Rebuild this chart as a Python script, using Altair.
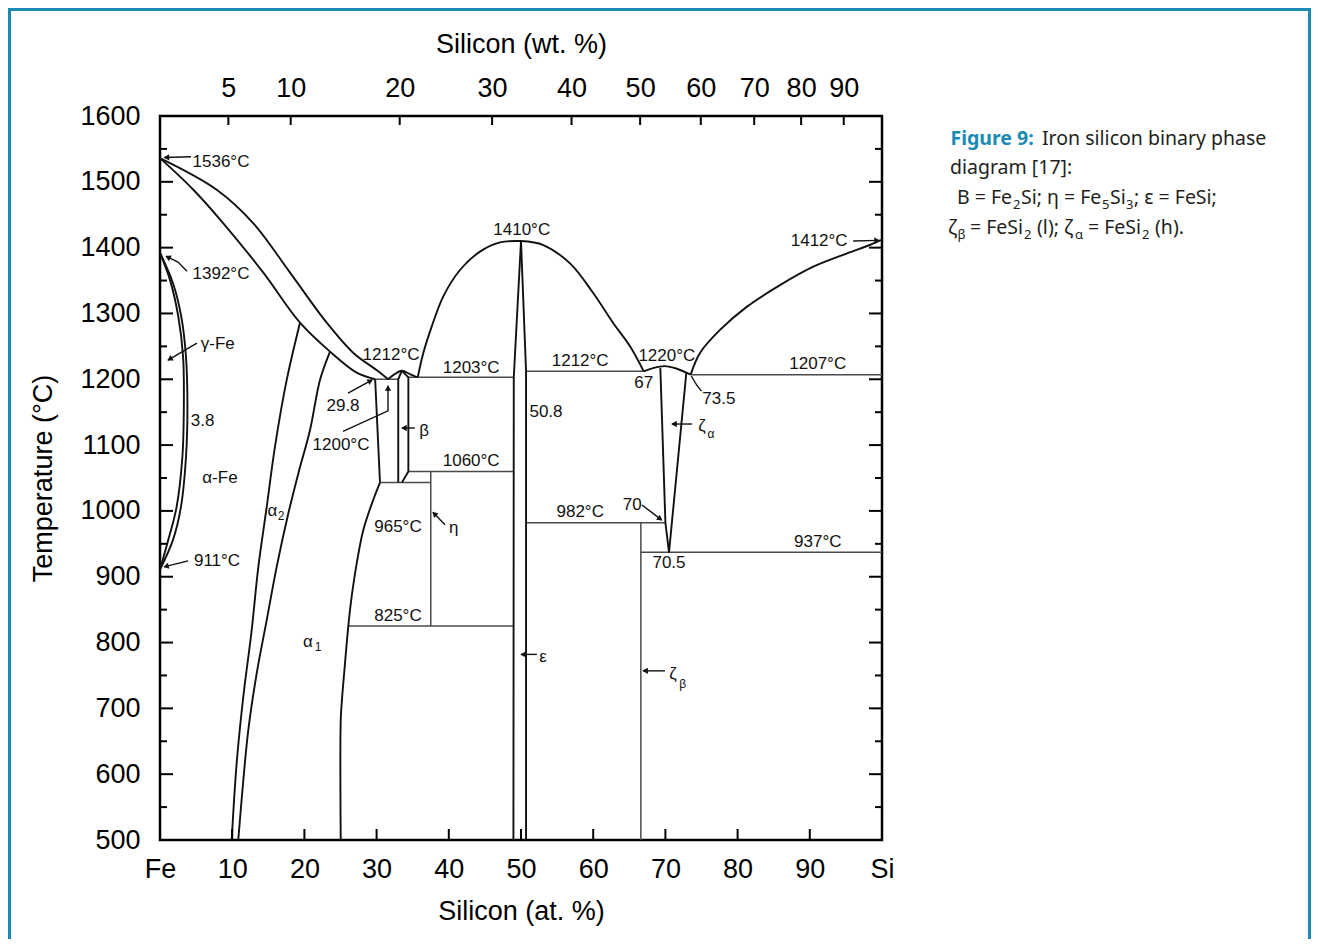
import math
import altair as alt
import pandas as pd

W, H = 722, 724
AT_DOM = [0, 100]
T_DOM = [500, 1600]
FONT = "Liberation Sans"
CAP_FONT = "Noto Sans"
TEAL = "#1b8bb4"
INK = "#111111"
GREY = "#4a4a4a"
CAP_INK = "#231f20"

# ---------------- axes ----------------
at_tick_values = [0, 10, 20, 30, 40, 50, 60, 70, 80, 90, 100]
at_tick_labels = ["Fe", "10", "20", "30", "40", "50", "60", "70", "80", "90", "Si"]
wt_tick_at = [9.47, 18.1, 33.2, 46.0, 57.0, 66.5, 74.9, 82.3, 88.8, 94.7]
wt_tick_labels = ["5", "10", "20", "30", "40", "50", "60", "70", "80", "90"]
temp_major = [500, 600, 700, 800, 900, 1000, 1100, 1200, 1300, 1400, 1500, 1600]
temp_minor = [550, 650, 750, 850, 950, 1050, 1150, 1250, 1350, 1450, 1550]

# ---------------- curved phase boundaries (at.% Si, degC) ----------------
liq_fe_at = [0, 7.85, 12.93, 18.01, 23.09, 26.78, 30.0, 31.6]
liq_fe_T = [1536, 1488, 1437, 1362, 1286, 1240, 1214, 1200]
sol_fe_at = [0, 4.62, 8.77, 14.31, 19.39, 23.55, 27.24, 29.8]
sol_fe_T = [1536, 1488, 1437, 1362, 1286, 1242, 1210, 1200]
gam_out_at = [0, 1.8, 2.95, 3.6, 3.8, 3.6, 2.9, 1.8, 0]
gam_out_T = [1392, 1346, 1295, 1234, 1158, 1082, 1006, 956, 911]
gam_in_at = [0, 1.38, 2.54, 3.2, 3.3, 3.1, 2.3, 1.15, 0]
gam_in_T = [1392, 1351, 1295, 1234, 1158, 1082, 1006, 956, 911]
a2_left_at = [19.39, 17.55, 15.93, 14.78, 13.62, 12.7, 11.54, 10.62, 9.93]
a2_left_T = [1286, 1199, 1098, 1006, 915, 819, 718, 617, 500]
a2_right_at = [23.55, 22.16, 20.78, 19.16, 17.77, 16.16, 14.78, 13.39, 12.23, 11.54, 10.84]
a2_right_T = [1242, 1199, 1123, 1057, 996, 915, 834, 753, 667, 591, 500]
a1_low_at = [30.47, 29.54, 28.16, 27.24, 26.55, 26.08, 25.62, 25.2, 25.03, 25.03]
a1_low_T = [1043, 1017, 971, 920, 870, 825, 768, 713, 682, 500]
beta_dome_at = [31.6, 32.4, 33.5, 34.6, 35.6]
beta_dome_T = [1200, 1207, 1213, 1208, 1203]
eps_liq_l_at = [35.7, 36.47, 37.63, 39.24, 41.55, 44.32, 47.09, 50.0]
eps_liq_l_T = [1203, 1240, 1280, 1326, 1366, 1394, 1408, 1410]
eps_liq_r_at = [50.0, 53.09, 56.79, 60.0, 62.79, 65.1, 67.0]
eps_liq_r_T = [1410, 1404, 1376, 1331, 1285, 1250, 1212]
zeta_dome_at = [67.0, 68.3, 69.9, 71.6, 73.5]
zeta_dome_T = [1212, 1217, 1220, 1216, 1207]
liq_si_at = [73.5, 74.79, 77.56, 81.26, 85.87, 90.48, 95.1, 98.3, 100]
liq_si_T = [1207, 1240, 1275, 1310, 1343, 1371, 1391, 1404, 1412]

# ---------------- straight phase boundaries ----------------
a1_up_at = [29.8, 30.47]
a1_up_T = [1200, 1043]
beta_l_at = [33.5, 33.0, 33.0]
beta_l_T = [1213, 1200, 1043]
beta_r_at = [33.5, 34.4, 34.4, 33.5]
beta_r_T = [1213, 1203, 1060, 1043]
eps_l_at = [50.0, 49.0, 48.95]
eps_l_T = [1410, 1203, 500]
eps_r_at = [50.0, 50.7, 50.7]
eps_r_T = [1410, 1212, 500]
za_l_at = [69.3, 70.0, 70.5]
za_l_T = [1217, 982, 937]
za_r_at = [72.9, 70.5]
za_r_T = [1210, 937]

# ---------------- isotherms and vertical phase lines ----------------
iso_T = [1200, 1043, 1060, 1203, 825, 1212, 982, 937, 1207]
iso_from = [29.8, 30.47, 34.4, 34.4, 26.08, 50.7, 50.7, 66.6, 73.5]
iso_to = [33.0, 37.5, 49.0, 49.0, 49.0, 67.0, 70.0, 100, 100]
vert_at = [37.5, 66.6]
vert_top = [1060, 982]
vert_bottom = [825, 500]

# ---------------- annotation arrows ----------------
arrow_at = [[4.3, 0.6], [3.74, 2.49, 0.83], [5.12, 1.1], [3.88, 0.55],
            [26.04, 29.4], [25.35, 31.58, 31.58], [35.3, 33.5], [39.47, 37.8],
            [52.2, 50.0], [66.76, 69.5], [69.94, 66.9], [73.7, 70.9], [96.0, 99.6]]
arrow_T = [[1538, 1537], [1364, 1378, 1387], [1255, 1229], [924, 915],
           [1179, 1199], [1121, 1152, 1190], [1126, 1126], [979, 998],
           [782, 782], [1009, 986], [757, 757], [1132, 1132], [1410, 1411]]
connector_at = [73.6, 74.3, 75.0]
connector_T = [1205, 1192, 1182]

# ---------------- annotation texts ----------------
label_text = ["1536°C", "1392°C", "γ-Fe", "3.8", "α-Fe", "911°C", "29.8", "1200°C",
              "1212°C", "β", "1203°C", "1060°C", "965°C", "η", "825°C", "1410°C",
              "50.8", "1212°C", "982°C", "70", "70.5", "937°C", "ε", "67", "1220°C",
              "73.5", "1207°C", "1412°C", "α", "α", "ζ", "ζ"]
label_at = [8.45, 8.45, 8.0, 5.9, 8.3, 7.9, 25.35, 25.07,
            32.0, 36.6, 43.1, 43.1, 32.96, 40.7, 32.96, 50.1,
            53.46, 58.2, 58.2, 65.4, 70.5, 91.1, 53.05, 67.0, 70.2,
            77.4, 91.1, 91.3, 15.58, 20.5, 71.05, 75.07]
label_T = [1530, 1360, 1253, 1137, 1050, 924, 1160, 1100,
           1237, 1121, 1217, 1076, 976, 974, 840, 1427,
           1150, 1228, 998, 1009, 921, 953, 778, 1194, 1235,
           1170, 1223, 1410, 1000, 801, 752, 1129]
sub_text = ["2", "1", "β", "α"]
sub_at = [16.76, 21.9, 72.4, 76.3]
sub_T = [992, 793, 737, 1117]

# ---------------- caption (page pixel positions) ----------------
cap_bold_text = ["Figure 9:"]
cap_bold_x = [950.5]
cap_bold_y = [144.5]
cap_text = ["Iron silicon binary phase", "diagram [17]:", "B = Fe", "Si; η = Fe", "Si",
            "; ε = FeSi;", "ζ", "= FeSi", "(l); ζ", "= FeSi", "(h)."]
cap_x = [1042, 950, 957, 1021, 1110, 1134, 948, 970, 1037, 1088, 1155]
cap_y = [144.5, 174, 204, 204, 204, 204, 233.5, 233.5, 233.5, 233.5, 233.5]
cap_sub_text = ["2", "5", "3", "β", "2", "α", "2"]
cap_sub_x = [1013, 1102, 1126, 957.5, 1024, 1075, 1142]
cap_sub_y = [209, 209, 209, 239, 238.5, 239, 238.5]

# ======================================================================
xs = alt.Scale(domain=AT_DOM, nice=False, zero=False)
ys = alt.Scale(domain=T_DOM, nice=False, zero=False)


def X(field="at", axis=None):
    return alt.X(f"{field}:Q", scale=xs, axis=axis)


def Y(field="T", axis=None):
    return alt.Y(f"{field}:Q", scale=ys, axis=axis)


def paths(d):
    rows = []
    for name, (a, t) in d.items():
        for i, (xa, yt) in enumerate(zip(a, t)):
            rows.append({"id": name, "ord": i, "at": xa, "T": yt})
    return pd.DataFrame(rows)


curved = paths({
    "liq_fe": (liq_fe_at, liq_fe_T), "sol_fe": (sol_fe_at, sol_fe_T),
    "gam_out": (gam_out_at, gam_out_T), "gam_in": (gam_in_at, gam_in_T),
    "a2_l": (a2_left_at, a2_left_T), "a2_r": (a2_right_at, a2_right_T),
    "a1_low": (a1_low_at, a1_low_T), "beta_dome": (beta_dome_at, beta_dome_T),
    "eps_l": (eps_liq_l_at, eps_liq_l_T), "eps_r": (eps_liq_r_at, eps_liq_r_T),
    "zeta_dome": (zeta_dome_at, zeta_dome_T), "liq_si": (liq_si_at, liq_si_T),
})
straight = paths({
    "a1_up": (a1_up_at, a1_up_T), "beta_l": (beta_l_at, beta_l_T),
    "beta_r": (beta_r_at, beta_r_T), "eps_sl": (eps_l_at, eps_l_T),
    "eps_sr": (eps_r_at, eps_r_T), "za_l": (za_l_at, za_l_T), "za_r": (za_r_at, za_r_T),
})
arrows = paths({f"a{i}": (a, t) for i, (a, t) in enumerate(zip(arrow_at, arrow_T))})
connector = paths({"c": (connector_at, connector_T)})

# arrow heads from last segment direction
heads = []
for a, t in zip(arrow_at, arrow_T):
    dx = (a[-1] - a[-2]) * W / (AT_DOM[1] - AT_DOM[0])
    dy = -(t[-1] - t[-2]) * H / (T_DOM[1] - T_DOM[0])
    ln = math.hypot(dx, dy)
    ux, uy = dx / ln, dy / ln
    back = 3.0
    hx = a[-1] - ux * back * (AT_DOM[1] - AT_DOM[0]) / W
    hy = t[-1] + uy * back * (T_DOM[1] - T_DOM[0]) / H
    ang = math.degrees(math.atan2(dx, -dy)) % 360
    heads.append({"at": hx, "T": hy, "ang": ang})
heads = pd.DataFrame(heads)

iso_df = pd.DataFrame({"T": iso_T, "a0": iso_from, "a1": iso_to})
vert_df = pd.DataFrame({"at": vert_at, "t0": vert_top, "t1": vert_bottom})
lab_df = pd.DataFrame({"text": label_text, "at": label_at, "T": label_T})
sub_df = pd.DataFrame({"text": sub_text, "at": sub_at, "T": sub_T})

iso = alt.Chart(iso_df).mark_rule(color=GREY, strokeWidth=1.5).encode(
    x=X("a0"), x2="a1:Q", y=Y())
vert = alt.Chart(vert_df).mark_rule(color=GREY, strokeWidth=1.5).encode(
    x=X(), y=Y("t0"), y2="t1:Q")
straight_l = alt.Chart(straight).mark_line(color=INK, strokeWidth=1.9).encode(
    x=X(), y=Y(), detail="id:N", order="ord:Q")
curved_l = alt.Chart(curved).mark_line(color=INK, strokeWidth=1.9, interpolate="catmull-rom").encode(
    x=X(), y=Y(), detail="id:N", order="ord:Q")
arrow_l = alt.Chart(arrows).mark_line(color=INK, strokeWidth=1.4).encode(
    x=X(), y=Y(), detail="id:N", order="ord:Q")
conn_l = alt.Chart(connector).mark_line(color=INK, strokeWidth=1.4, interpolate="catmull-rom").encode(
    x=X(), y=Y(), detail="id:N", order="ord:Q")
head_p = alt.Chart(heads).mark_point(shape="triangle", filled=True, size=40, color=INK, opacity=1).encode(
    x=X(), y=Y(), angle=alt.Angle("ang:Q", scale=None))
labels = alt.Chart(lab_df).mark_text(font=FONT, fontSize=17, color=INK, baseline="middle").encode(
    x=X(), y=Y(), text="text:N")
subs = alt.Chart(sub_df).mark_text(font=FONT, fontSize=12, color=INK, baseline="middle").encode(
    x=X(), y=Y(), text="text:N")

axis_common = dict(ticks=False, tickSize=0, domain=False, grid=False, labelFont=FONT,
                   labelFontSize=27, labelColor="black", labelFlush=False, labelOverlap=False,
                   titleFont=FONT, titleFontSize=27, titleFontWeight="normal", titleColor="black")

bottom_expr = "[" + ",".join(f"'{s}'" for s in at_tick_labels) + "][indexof([" + \
    ",".join(str(v) for v in at_tick_values) + "], datum.value)]"
top_expr = "[" + ",".join(f"'{s}'" for s in wt_tick_labels) + "][indexof([" + \
    ",".join(str(v) for v in wt_tick_at) + "], datum.value)]"

left_major = alt.Chart(pd.DataFrame({"T": temp_major})).mark_rule(color="black", strokeWidth=2).encode(
    y=Y(axis=alt.Axis(values=temp_major, format="d", labelPadding=20, title="Temperature (°C)",
                      titlePadding=22, **axis_common)),
    x=alt.value(0), x2=alt.value(13))
left_minor = alt.Chart(pd.DataFrame({"T": temp_minor})).mark_rule(color="black", strokeWidth=2).encode(
    y=Y(), x=alt.value(0), x2=alt.value(7))
right_major = alt.Chart(pd.DataFrame({"T": temp_major})).mark_rule(color="black", strokeWidth=2).encode(
    y=Y(), x=alt.value(W), x2=alt.value(W - 13))
right_minor = alt.Chart(pd.DataFrame({"T": temp_minor})).mark_rule(color="black", strokeWidth=2).encode(
    y=Y(), x=alt.value(W), x2=alt.value(W - 7))
bottom_ticks = alt.Chart(pd.DataFrame({"at": at_tick_values[1:-1]})).mark_rule(color="black", strokeWidth=2).encode(
    x=X(axis=alt.Axis(orient="bottom", values=at_tick_values, labelExpr=bottom_expr,
                      labelPadding=16, title="Silicon (at. %)", titlePadding=16, **axis_common)),
    y=alt.value(H), y2=alt.value(H - 11))
top_ticks = alt.Chart(pd.DataFrame({"at": wt_tick_at})).mark_rule(color="black", strokeWidth=2).encode(
    x=X(axis=alt.Axis(orient="top", values=wt_tick_at, labelExpr=top_expr,
                      labelPadding=14, title="Silicon (wt. %)", titlePadding=16, **axis_common)),
    y=alt.value(0), y2=alt.value(9))

# caption & frame in page pixel coordinates
px = alt.Scale(domain=[160, 160 + W], range=[0, W])
py = alt.Scale(domain=[116, 116 + H], range=[0, H])
cap_bold = alt.Chart(pd.DataFrame({"t": cap_bold_text, "x": cap_bold_x, "y": cap_bold_y})).mark_text(
    font=CAP_FONT, fontSize=19.5, fontWeight="bold", color=TEAL, align="left", baseline="alphabetic").encode(
    x=alt.X("x:Q", scale=px, axis=None), y=alt.Y("y:Q", scale=py, axis=None), text="t:N")
cap_main = alt.Chart(pd.DataFrame({"t": cap_text, "x": cap_x, "y": cap_y})).mark_text(
    font=CAP_FONT, fontSize=19.5, color=CAP_INK, align="left", baseline="alphabetic").encode(
    x=alt.X("x:Q", scale=px, axis=None), y=alt.Y("y:Q", scale=py, axis=None), text="t:N")
cap_sub = alt.Chart(pd.DataFrame({"t": cap_sub_text, "x": cap_sub_x, "y": cap_sub_y})).mark_text(
    font=CAP_FONT, fontSize=13, color=CAP_INK, align="left", baseline="alphabetic").encode(
    x=alt.X("x:Q", scale=px, axis=None), y=alt.Y("y:Q", scale=py, axis=None), text="t:N")
frame = alt.Chart(pd.DataFrame({"k": [0]})).mark_rect(
    fillOpacity=0, stroke=TEAL, strokeWidth=3).encode(
    x=alt.value(-150.5), x2=alt.value(1149.5), y=alt.value(-106.5), y2=alt.value(900))

chart = alt.layer(
    frame, iso, vert, straight_l, curved_l, arrow_l, conn_l, head_p, labels, subs,
    left_major, left_minor, right_major, right_minor, bottom_ticks, top_ticks,
    cap_bold, cap_main, cap_sub,
).resolve_scale(x="independent", y="independent").resolve_axis(
    x="independent", y="independent"
).properties(
    width=W, height=H,
    autosize=alt.AutoSizeParams(type="none"),
    padding={"left": 152, "top": 108, "right": 429, "bottom": 99},
    background="white",
).configure_view(stroke="black", strokeWidth=2.5)

chart.save("out.html", embed_options={"renderer": "svg", "actions": False})
